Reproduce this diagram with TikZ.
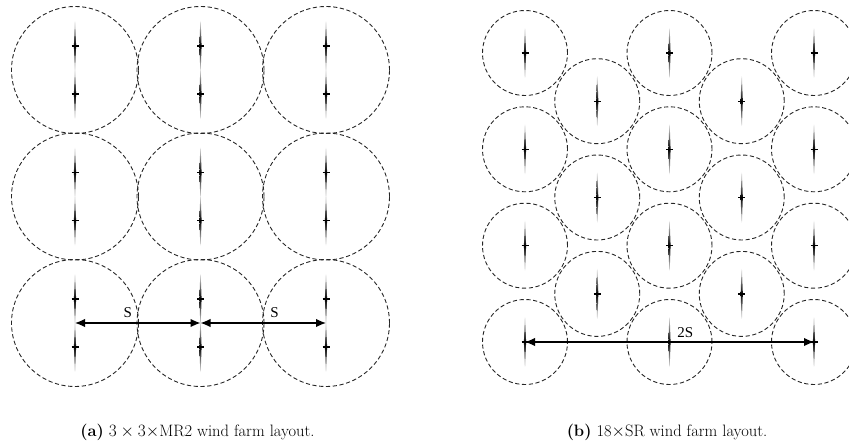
\documentclass[tikz,border=0pt]{standalone}
\usepackage{fontspec}
\newfontfamily\labelfont{Liberation Serif}
\usetikzlibrary{arrows.meta}
\tikzset{
  zone/.style={circle, draw=black!85, dash pattern=on 4.2pt off 2.6pt, line width=0.9pt, inner sep=0pt, outer sep=0pt},
  bigzone/.style={zone, minimum size=127pt},
  smallzone/.style={zone, minimum size=85pt},
  dim/.style={{Latex[length=10pt,width=8.5pt]}-{Latex[length=10pt,width=8.5pt]}, line width=1.3pt},
  dimlabel/.style={font=\labelfont\fontsize{15}{15}\selectfont, inner sep=0pt},
  caplabel/.style={font=\fontsize{16.5}{19}\selectfont, inner sep=0pt, anchor=base},
  turbine/.pic={
    \shade[top color=black!10, bottom color=black!10, middle color=black]
      (-0.2,-25) -- (0.2,-25) -- (1.1,0) -- (0.2,25) -- (-0.2,25) -- (-1.1,0) -- cycle;
    \draw[line width=1.3pt] (-3.5,0) -- (3.5,0);
  }
}
\begin{document}
\begin{tikzpicture}[x=1pt,y=-1pt]
\useasboundingbox (0,0) rectangle (849,444);
\clip (0,0) rectangle (849,444);
% ---------- (a) 3x3 MR2 ----------
\foreach \r/\yy in {1/70,2/196.5,3/323}{
  \foreach \c/\xx in {1/75,2/200.5,3/326}{
    \node[bigzone] (a\r\c) at (\xx,\yy) {};
    \pic at ([yshift=24pt]a\r\c.center) {turbine};
    \pic at ([yshift=-24pt]a\r\c.center) {turbine};
  }
}
\draw[dim] (a31.center) -- (a32.center) node[dimlabel, pos=0.42, above=5pt] (s1) {S};
\draw[dim] (a32.center) -- (a33.center) node[dimlabel, pos=0.59, above=5pt] (s2) {S};
% ---------- (b) 18 SR ----------
\foreach \r/\yy in {1/53,2/149.3,3/245.7,4/342}{
  \foreach \c/\xx in {1/525,3/669.5,5/814}{
    \node[smallzone] (b\r\c) at (\xx,\yy) {};
    \pic at (b\r\c.center) {turbine};
  }
}
\foreach \r/\yy in {1/101.2,2/197.5,3/293.9}{
  \foreach \c/\xx in {2/597.25,4/741.75}{
    \node[smallzone] (b\r\c) at (\xx,\yy) {};
    \pic at (b\r\c.center) {turbine};
  }
}
\draw[dim] (b41.center) -- (b45.center) node[dimlabel, pos=0.555, above=4pt] (s3) {2S};
% ---------- captions ----------
\node[caplabel] (capa) at (197.5,436) {\textbf{(a)} $3\times3{\times}$MR2 wind farm layout.};
\node[caplabel] (capb) at (667,436) {\textbf{(b)} 18$\times$SR wind farm layout.};
\end{tikzpicture}
\end{document}
